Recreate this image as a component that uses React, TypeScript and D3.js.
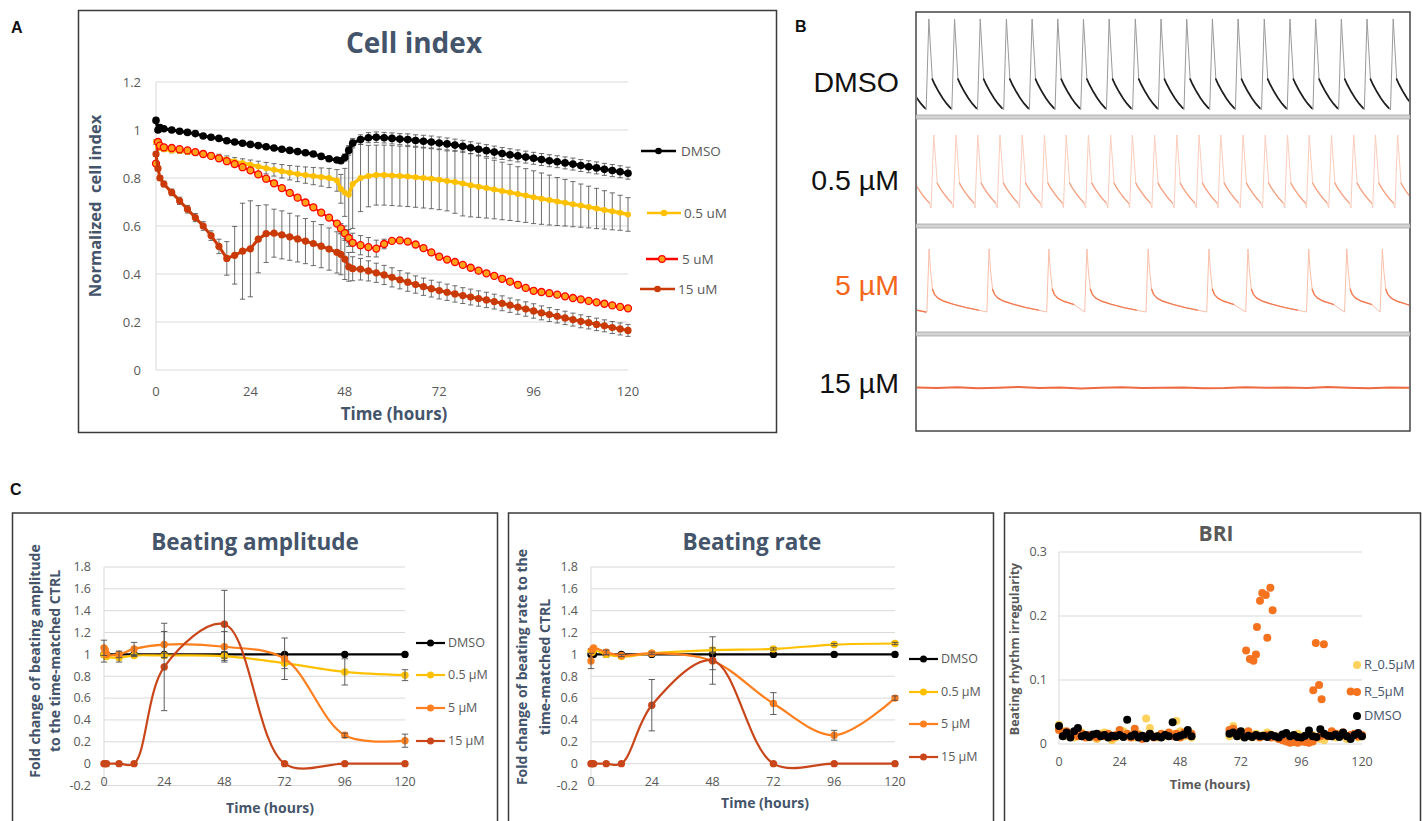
import React from "react";
import * as d3 from "d3";

const OPEN = "'Open Sans', 'DejaVu Sans', sans-serif";
const ARIAL = "'Liberation Sans', Arial, sans-serif";
const SLATE = "#44546A";
const GREY = "#595959";
const GRID = "#D9D9D9";

// ---------- A: normalized cell index (every 2 h, extra points near 0 h and 48 h) ----------
const tA = [
  0, 0.5, 1,
  2, 4, 6, 8, 10, 12, 14, 16, 18, 20, 22, 24,
  26, 28, 30, 32, 34, 36, 38, 40, 42, 44, 46,
  47, 48, 49,
  50, 52, 54, 56, 58, 60, 62, 64, 66, 68, 70, 72,
  74, 76, 78, 80, 82, 84, 86, 88, 90, 92, 94, 96,
  98, 100, 102, 104, 106, 108, 110, 112, 114, 116, 118, 120,
];
const ciDMSO = [
  1.04, 1.0, 1.01,
  1.005, 1.0, 0.995, 0.99, 0.985, 0.975, 0.97, 0.965, 0.955, 0.95, 0.945, 0.94,
  0.935, 0.93, 0.925, 0.92, 0.915, 0.91, 0.905, 0.9, 0.89, 0.88, 0.875,
  0.872, 0.885, 0.915,
  0.945, 0.96, 0.968, 0.97, 0.968, 0.965, 0.962, 0.96, 0.956, 0.953, 0.95, 0.946,
  0.942, 0.937, 0.932, 0.926, 0.92, 0.914, 0.908, 0.902, 0.897, 0.892, 0.887, 0.882,
  0.877, 0.872, 0.868, 0.863, 0.858, 0.852, 0.847, 0.842, 0.836, 0.831, 0.826, 0.82,
];
const ciDMSOErr = [
  0.01, 0.01, 0.01,
  0.008, 0.008, 0.008, 0.008, 0.008, 0.008, 0.008, 0.008, 0.008, 0.008, 0.008, 0.008,
  0.008, 0.008, 0.008, 0.009, 0.009, 0.009, 0.01, 0.01, 0.01, 0.01, 0.01,
  0.012, 0.015, 0.02,
  0.02, 0.02, 0.021, 0.022, 0.022, 0.023, 0.023, 0.024, 0.024, 0.025, 0.025, 0.025,
  0.025, 0.025, 0.025, 0.025, 0.025, 0.025, 0.025, 0.025, 0.025, 0.025, 0.025, 0.025,
  0.025, 0.025, 0.025, 0.025, 0.025, 0.025, 0.025, 0.025, 0.025, 0.025, 0.025, 0.025,
];
const ci05 = [
  0.95, 0.93, 0.925,
  0.92, 0.915, 0.912, 0.908, 0.904, 0.9, 0.893, 0.885, 0.877, 0.869, 0.862, 0.855,
  0.848, 0.841, 0.834, 0.828, 0.822, 0.817, 0.812, 0.808, 0.804, 0.8, 0.79,
  0.755, 0.74, 0.73,
  0.775, 0.8, 0.808, 0.812, 0.812, 0.81, 0.808, 0.806, 0.803, 0.8, 0.797, 0.793,
  0.788, 0.783, 0.777, 0.77, 0.764, 0.758, 0.752, 0.746, 0.74, 0.733, 0.727, 0.72,
  0.714, 0.708, 0.702, 0.697, 0.691, 0.685, 0.679, 0.673, 0.667, 0.661, 0.655, 0.648,
];
const ci05Err = [
  0.01, 0.01, 0.01,
  0.01, 0.01, 0.01, 0.01, 0.01, 0.012, 0.012, 0.014, 0.015, 0.016, 0.018, 0.02,
  0.022, 0.024, 0.026, 0.028, 0.03, 0.032, 0.034, 0.036, 0.038, 0.04, 0.045,
  0.06, 0.1, 0.2,
  0.185, 0.14, 0.128, 0.125, 0.125, 0.125, 0.125, 0.125, 0.125, 0.125, 0.125, 0.125,
  0.125, 0.13, 0.135, 0.132, 0.128, 0.125, 0.122, 0.12, 0.117, 0.114, 0.112, 0.11,
  0.107, 0.104, 0.1, 0.097, 0.094, 0.09, 0.087, 0.084, 0.08, 0.077, 0.073, 0.07,
];
const ci5 = [
  0.86, 0.95, 0.935,
  0.928, 0.925, 0.92, 0.915, 0.908, 0.9, 0.892, 0.882, 0.87, 0.858, 0.845, 0.832,
  0.815, 0.797, 0.778, 0.758, 0.738, 0.718, 0.698, 0.678, 0.656, 0.635, 0.61,
  0.59, 0.57, 0.55,
  0.53, 0.52, 0.512, 0.506, 0.525, 0.538, 0.54, 0.535, 0.523, 0.508, 0.49, 0.472,
  0.46, 0.45, 0.438, 0.426, 0.414, 0.403, 0.392, 0.38, 0.368, 0.355, 0.342, 0.33,
  0.325, 0.32, 0.314, 0.307, 0.3, 0.294, 0.288, 0.282, 0.276, 0.269, 0.263, 0.257,
];
const ci5Err = [
  0.01, 0.01, 0.01,
  0.008, 0.008, 0.008, 0.008, 0.008, 0.008, 0.008, 0.008, 0.008, 0.008, 0.008, 0.008,
  0.008, 0.008, 0.008, 0.008, 0.008, 0.008, 0.008, 0.008, 0.008, 0.008, 0.008,
  0.02, 0.03, 0.035,
  0.04, 0.04, 0.04, 0.035, 0.02, 0.01, 0.01, 0.01, 0.01, 0.01, 0.01, 0.01,
  0.01, 0.01, 0.01, 0.01, 0.01, 0.01, 0.01, 0.01, 0.01, 0.01, 0.01, 0.01,
  0.01, 0.01, 0.01, 0.01, 0.01, 0.01, 0.01, 0.01, 0.01, 0.01, 0.01, 0.01,
];
const ci15 = [
  0.9, 0.84, 0.8,
  0.775, 0.74, 0.705, 0.67, 0.635, 0.6, 0.56, 0.515, 0.465, 0.478, 0.495, 0.505,
  0.545, 0.568, 0.57, 0.563, 0.555, 0.546, 0.537, 0.527, 0.516, 0.504, 0.49,
  0.482, 0.462, 0.43,
  0.422, 0.42, 0.413, 0.405, 0.396, 0.386, 0.376, 0.366, 0.356, 0.347, 0.339, 0.331,
  0.324, 0.317, 0.31, 0.304, 0.298, 0.292, 0.285, 0.278, 0.27, 0.262, 0.254, 0.246,
  0.238, 0.231, 0.224, 0.217, 0.21, 0.203, 0.197, 0.19, 0.184, 0.177, 0.171, 0.165,
];
const ci15Err = [
  0.01, 0.01, 0.01,
  0.012, 0.014, 0.015, 0.016, 0.017, 0.018, 0.02, 0.03, 0.07, 0.12, 0.2, 0.2,
  0.14, 0.12, 0.1, 0.1, 0.098, 0.096, 0.094, 0.092, 0.09, 0.088, 0.086,
  0.085, 0.085, 0.06,
  0.05, 0.045, 0.042, 0.04, 0.04, 0.04, 0.038, 0.038, 0.036, 0.036, 0.035, 0.035,
  0.034, 0.034, 0.033, 0.033, 0.032, 0.032, 0.031, 0.031, 0.03, 0.03, 0.03, 0.03,
  0.029, 0.029, 0.028, 0.028, 0.027, 0.027, 0.026, 0.026, 0.025, 0.025, 0.025, 0.025,
];
const ciLabels = ["DMSO", "0.5 uM", "5 uM", "15 uM"];

// ---------- B: beating traces (beat peak times in trace units, 0-100 across the frame) ----------
const beatsDMSO = [-2.6, 2.6, 7.8, 13.0, 18.3, 23.5, 28.7, 33.9, 39.1, 44.4, 49.6, 54.8, 60.0, 65.2, 70.5, 75.7, 80.9, 86.1, 91.3, 96.6, 101.8];
const beats05 = [-0.9, 3.6, 8.1, 12.5, 17.0, 21.5, 26.0, 30.4, 34.9, 39.4, 43.8, 48.3, 52.8, 57.3, 61.7, 66.2, 70.7, 75.2, 79.6, 84.1, 88.6, 93.0, 97.5, 102];
const beats5 = [-10, 2.65, 14.8, 26.9, 34.6, 47.0, 59.3, 67.2, 79.5, 87.2, 94.4, 106];
// one beat: [time after peak, normalized amplitude]
const fastBeat = [[-0.55, 0], [0, 1], [0.7, 0.34], [1.2, 0.28], [2.0, 0.2], [2.8, 0.13], [3.6, 0.07], [4.4, 0.02]];
const slowBeat = [[-0.45, 0], [0, 1], [0.3, 0.65], [0.7, 0.36], [1.1, 0.28], [1.8, 0.22], [3, 0.17], [5, 0.12], [7.5, 0.07], [10, 0.03], [12, 0]];
const flat15 = [0.2, 0.0, 0.3, -0.1, 0.1, 0.4, 0.0, 0.2, -0.2, 0.1, 0.3, 0.0, 0.1, 0.2, -0.1, 0.0, 0.3, 0.1, 0.2, 0.0, 0.4, 0.1, -0.1, 0.2, 0.1];
const traceLabels = ["DMSO", "0.5 µM", "5 µM", "15 µM"];

// ---------- C: fold change vs time-matched control ----------
const tC = [0, 0.5, 1, 6, 12, 24, 48, 72, 96, 120];
const ampDMSO = [1, 1, 1, 1, 1, 1, 1, 1, 1, 1];
const amp05 = [1.0, 0.99, 0.98, 0.97, 0.99, 0.99, 0.985, 0.92, 0.84, 0.81];
const amp5 = [1.06, 1.04, 1.0, 1.0, 1.05, 1.09, 1.07, 0.96, 0.26, 0.21];
const amp15 = [0, 0, 0, 0, 0, 0.885, 1.276, 0, 0, 0];
const ampErrDMSO = [0, 0, 0, 0, 0, 0, 0, 0, 0, 0];
const ampErr05 = [0.07, 0, 0, 0.04, 0.01, 0.02, 0.04, 0.05, 0.12, 0.05];
const ampErr5 = [0.07, 0, 0, 0.03, 0.06, 0.12, 0.14, 0.19, 0.02, 0.06];
const ampErr15 = [0, 0, 0, 0, 0, 0.4, 0.31, 0, 0, 0];

const rateDMSO = [1, 1, 1, 1, 1, 1, 1, 1, 1, 1];
const rate05 = [1.03, 1.02, 1.04, 1.0, 0.98, 1.01, 1.04, 1.05, 1.09, 1.1];
const rate5 = [0.94, 1.04, 1.06, 1.02, 0.99, 1.01, 0.94, 0.55, 0.26, 0.6];
const rate15 = [0, 0, 0, 0, 0, 0.535, 0.944, 0, 0, 0];
const rateErrDMSO = [0, 0, 0, 0, 0, 0, 0, 0, 0, 0];
const rateErr05 = [0.02, 0, 0, 0.01, 0.01, 0.01, 0.02, 0.01, 0.01, 0.01];
const rateErr5 = [0.07, 0, 0, 0.02, 0.01, 0.01, 0.08, 0.1, 0.045, 0.02];
const rateErr15 = [0, 0, 0, 0, 0, 0.235, 0.217, 0, 0, 0];
const foldLabels = ["DMSO", "0.5 µM", "5 µM", "15 µM"];
const foldTicksY = [-0.2, 0, 0.2, 0.4, 0.6, 0.8, 1, 1.2, 1.4, 1.6, 1.8];
const hourTicks = [0, 24, 48, 72, 96, 120];

// ---------- BRI: beating rhythm irregularity ----------
const briT = [...d3.range(0, 53, 1.5), ...d3.range(67.5, 120.1, 1.5)];
const briDMSO = [
  0.028, 0.012, 0.018, 0.01, 0.02, 0.025, 0.012, 0.014, 0.011, 0.015, 0.016, 0.012,
  0.014, 0.01, 0.013, 0.012, 0.014, 0.011, 0.038, 0.012, 0.015, 0.01, 0.013, 0.009,
  0.016, 0.011, 0.012, 0.01, 0.014, 0.012, 0.034, 0.011, 0.013, 0.015, 0.022, 0.012,
  0.016, 0.018, 0.012, 0.02, 0.01, 0.013, 0.011, 0.014, 0.012, 0.013, 0.011, 0.014,
  0.012, 0.01, 0.015, 0.017, 0.012, 0.014, 0.011, 0.01, 0.013, 0.021, 0.012, 0.011,
  0.023, 0.016, 0.013, 0.012, 0.015, 0.011, 0.018, 0.012, 0.008, 0.014, 0.017, 0.012,
];
const bri05 = [
  0.03, 0.02, 0.012, 0.016, 0.01, 0.014, 0.018, 0.012, 0.01, 0.014, 0.008, 0.016,
  0.018, 0.012, 0.006, 0.01, 0.016, 0.02, 0.012, 0.014, 0.01, 0.016, 0.012, 0.04,
  0.025, 0.012, 0.01, 0.015, 0.012, 0.014, 0.016, 0.036, 0.02, 0.012, 0.016, 0.01,
  0.012, 0.028, 0.016, 0.012, 0.018, 0.014, 0.01, 0.016, 0.012, 0.014, 0.018, 0.015,
  0.01, 0.012, 0.008, 0.014, 0.01, 0.012, 0.016, 0.012, 0.008, 0.012, 0.014, 0.01,
  0.008, 0.006, 0.012, 0.014, 0.01, 0.016, 0.012, 0.008, 0.012, 0.014, 0.01, 0.012,
];
const bri5 = [
  0.022, 0.018, 0.02, 0.014, 0.018, 0.012, 0.016, 0.01, 0.014, 0.012, 0.01, 0.014,
  0.012, 0.016, 0.01, 0.014, 0.022, 0.012, 0.016, 0.01, 0.024, 0.014, 0.008, 0.012,
  0.016, 0.01, 0.012, 0.016, 0.014, 0.018, 0.012, 0.016, 0.01, 0.018, 0.014, 0.016,
  0.022, 0.024, 0.018, 0.014, 0.012, 0.02, 0.012, 0.014, 0.01, 0.012, 0.014, 0.01,
  0.012, 0.008, 0.006, 0.004, 0.002, 0.003, 0.002, 0.004, 0.003, 0.002, 0.004, 0.01,
  0.012, 0.014, 0.012, 0.02, 0.016, 0.014, 0.018, 0.012, 0.014, 0.016, 0.012, 0.014,
];
const bri5HighT = [74.1, 75.6, 77.0, 78.0, 78.4, 79.6, 80.5, 81.9, 82.5, 83.7, 84.6, 100.7, 101.7, 103.0, 104.0, 104.9, 115.5];
const bri5HighV = [0.146, 0.133, 0.13, 0.14, 0.183, 0.224, 0.236, 0.233, 0.166, 0.244, 0.209, 0.084, 0.158, 0.092, 0.07, 0.156, 0.082];
const briLabels = ["R_0.5µM", "R_5µM", "DMSO"];

function ErrorBars({ ts, vals, errs, x, y, cap, color, width }: any) {
  return (
    <g stroke={color} strokeWidth={width}>
      {vals.map((v: number, i: number) => {
        if (!errs[i]) return null;
        const cx = x(ts[i]);
        const lo = y(v - errs[i]);
        const hi = y(v + errs[i]);
        return (
          <g key={i}>
            <line x1={cx} x2={cx} y1={lo} y2={hi} />
            <line x1={cx - cap} x2={cx + cap} y1={lo} y2={lo} />
            <line x1={cx - cap} x2={cx + cap} y1={hi} y2={hi} />
          </g>
        );
      })}
    </g>
  );
}

function PanelA() {
  const x = d3.scaleLinear().domain([0, 120]).range([156, 628]);
  const y = d3.scaleLinear().domain([0, 1.2]).range([370, 82]);
  const yTicks = [0, 0.2, 0.4, 0.6, 0.8, 1, 1.2];
  const line = d3.line<number>().x((_, i) => x(tA[i])).y((d) => y(d));
  const series = [
    { vals: ciDMSO, errs: ciDMSOErr, stroke: "#000000", fill: "#000000", r: 3.8, w: 3 },
    { vals: ci05, errs: ci05Err, stroke: "#FFC000", fill: "#FFC000", r: 3, w: 3.5 },
    { vals: ci5, errs: ci5Err, stroke: "#FF0000", fill: "#FFA21A", r: 3.5, w: 2 },
    { vals: ci15, errs: ci15Err, stroke: "#C93A06", fill: "#C93A06", r: 3.6, w: 3 },
  ];
  const legend = [
    { y: 151, x1: 641, x2: 676, tx: 681 },
    { y: 213, x1: 647, x2: 681, tx: 684 },
    { y: 259, x1: 646, x2: 678, tx: 682 },
    { y: 289, x1: 640, x2: 675, tx: 678 },
  ];
  return (
    <g fontFamily={OPEN}>
      <rect x={78.5} y={10.5} width={698} height={422} fill="#fff" stroke="#3a3a3a" strokeWidth={1.5} />
      <text x={414} y={53} textAnchor="middle" fontSize={28} fontWeight={700} fill={SLATE}>Cell index</text>
      {yTicks.map((t) => (
        <g key={t}>
          <line x1={x(0)} x2={x(120)} y1={y(t)} y2={y(t)} stroke={GRID} />
          <text x={141} y={y(t)} dy="0.35em" textAnchor="end" fontSize={13} fill={GREY}>{t}</text>
        </g>
      ))}
      <line x1={x(0)} x2={x(0)} y1={y(0)} y2={y(1.2)} stroke={GRID} />
      {hourTicks.map((t) => (
        <text key={t} x={x(t)} y={396} textAnchor="middle" fontSize={13} fill={GREY}>{t}</text>
      ))}
      <text transform="translate(95,206) rotate(-90)" textAnchor="middle" dy="0.35em" fontSize={16.5} fontWeight={700} fill={SLATE} style={{ whiteSpace: "pre" }}>
        {"Normalized  cell index"}
      </text>
      <text x={394} y={420} textAnchor="middle" fontSize={17} fontWeight={700} fill={SLATE}>Time (hours)</text>
      {series.map((s, k) => (
        <ErrorBars key={k} ts={tA} vals={s.vals} errs={s.errs} x={x} y={y} cap={2.6} color="#4a4a4a" width={0.8} />
      ))}
      {series.map((s, k) => (
        <g key={k}>
          <path d={line(s.vals) || ""} fill="none" stroke={s.stroke} strokeWidth={s.w} />
          {s.vals.map((v, i) => (
            <circle key={i} cx={x(tA[i])} cy={y(v)} r={s.r} fill={s.fill} stroke={s.stroke} strokeWidth={k === 2 ? 1.3 : 0} />
          ))}
        </g>
      ))}
      {legend.map((l, k) => (
        <g key={k}>
          <line x1={l.x1} x2={l.x2} y1={l.y} y2={l.y} stroke={series[k].stroke} strokeWidth={2.5} />
          <circle cx={(l.x1 + l.x2) / 2} cy={l.y} r={3.3} fill={series[k].fill} stroke={series[k].stroke} strokeWidth={k === 2 ? 1.2 : 0} />
          <text x={l.tx} y={l.y} dy="0.35em" fontSize={13.5} fill={GREY}>{ciLabels[k]}</text>
        </g>
      ))}
    </g>
  );
}

function beatSegments(beats: number[], tpl: number[][], from: number) {
  return beats.map((b, i) => {
    const stop = i < beats.length - 1 ? beats[i + 1] + tpl[0][0] : Infinity;
    return tpl
      .slice(from)
      .filter(([dt]) => b + dt < stop)
      .map(([dt, v]) => [b + dt, v] as [number, number]);
  });
}

function PanelB() {
  const x = d3.scaleLinear().domain([0, 100]).range([916, 1410]);
  const rows = [
    { beats: beatsDMSO, tpl: fastBeat, shoulder: 2, y0: 110, y1: 19, fast: "#9a9a9a", slow: "#1f1f1f", sw: 1.7 },
    { beats: beats05, tpl: fastBeat, shoulder: 2, y0: 208, y1: 135, fast: "#FBCDBD", slow: "#F5A283", sw: 1.3 },
    { beats: beats5, tpl: slowBeat, shoulder: 3, y0: 312, y1: 249, fast: "#F9BFAA", slow: "#F27D55", sw: 1.4 },
  ];
  const labelY = [92, 190, 295, 393];
  const flatX = d3.scaleLinear().domain([0, flat15.length - 1]).range([0, 100]);
  const flatLine = d3.line<number>().x((_, i) => x(flatX(i))).y((v) => 388 - v * 2.5);
  return (
    <g>
      <defs>
        <clipPath id="bclip">
          <rect x={917} y={13} width={492} height={417} />
        </clipPath>
      </defs>
      <rect x={916} y={12} width={494} height={419} fill="#fff" stroke="#444" strokeWidth={1.5} />
      {[117, 226, 334].map((sy) => (
        <rect key={sy} x={916} y={sy - 2} width={494} height={4} fill="#d4d4d4" stroke="#9c9c9c" strokeWidth={0.7} />
      ))}
      <g clipPath="url(#bclip)" fill="none">
        {rows.map((r, k) => {
          const y = d3.scaleLinear().domain([0, 1]).range([r.y0, r.y1]);
          const line = d3.line<[number, number]>().x((d) => x(d[0])).y((d) => y(d[1]));
          const full = beatSegments(r.beats, r.tpl, 0).flat();
          const slow = beatSegments(r.beats, r.tpl, r.shoulder);
          return (
            <g key={k}>
              <path d={line(full) || ""} stroke={r.fast} strokeWidth={1} />
              {slow.map((s, i) => (
                <path key={i} d={line(s) || ""} stroke={r.slow} strokeWidth={r.sw} strokeLinecap="round" />
              ))}
            </g>
          );
        })}
        <path d={flatLine(flat15) || ""} stroke="#EE6A40" strokeWidth={2} />
      </g>
      {traceLabels.map((t, k) => (
        <text key={t} x={899} y={labelY[k]} textAnchor="end" fontFamily={ARIAL} fontSize={28.5} fill={k === 2 ? "#F4661B" : "#111"}>
          {t}
        </text>
      ))}
    </g>
  );
}

function FoldChart(props: any) {
  const { frameX, frameW, title, titleX, yLabel, yLabelX, yLabelY, x0, x1, xLabelX, xLabelY, series, legendX, legendY } = props;
  const x = d3.scaleLinear().domain([0, 120]).range([x0, x1]);
  const y = d3.scaleLinear().domain([-0.2, 1.8]).range([785.5, 567]);
  const line = d3.line<number>().x((_, i) => x(tC[i])).y((d) => y(d)).curve(d3.curveCatmullRom);
  return (
    <g fontFamily={OPEN}>
      <rect x={frameX} y={513} width={frameW} height={330} fill="#fff" stroke="#3a3a3a" strokeWidth={1.5} />
      <text x={titleX} y={550} textAnchor="middle" fontSize={22.5} fontWeight={700} fill={SLATE}>{title}</text>
      {foldTicksY.map((t) => (
        <g key={t}>
          <line x1={x0} x2={x1} y1={y(t)} y2={y(t)} stroke={GRID} />
          <text x={x0 - 13} y={y(t)} dy="0.35em" textAnchor="end" fontSize={12.5} fill={GREY}>{t}</text>
        </g>
      ))}
      <line x1={x0} x2={x0} y1={y(-0.2)} y2={y(1.8)} stroke={GRID} />
      {hourTicks.map((t) => (
        <text key={t} x={x(t)} y={785.5} textAnchor="middle" fontSize={12.5} fill={GREY}>{t}</text>
      ))}
      {yLabel.map((l: string, k: number) => (
        <text key={k} transform={`translate(${yLabelX[k]},${yLabelY}) rotate(-90)`} textAnchor="middle" dy="0.35em" fontSize={14} fontWeight={700} fill={SLATE}>
          {l}
        </text>
      ))}
      <text x={xLabelX} y={xLabelY} textAnchor="middle" fontSize={14} fontWeight={700} fill={SLATE}>Time (hours)</text>
      {series.map((s: any, k: number) => (
        <g key={k}>
          <path d={line(s.vals) || ""} fill="none" stroke={s.color} strokeWidth={2.2} />
          {s.vals.map((v: number, i: number) => (
            <circle key={i} cx={x(tC[i])} cy={y(v)} r={3.7} fill={s.color} />
          ))}
          <ErrorBars ts={tC} vals={s.vals} errs={s.errs} x={x} y={y} cap={3.2} color="#4d4d4d" width={0.9} />
        </g>
      ))}
      {series.map((s: any, k: number) => (
        <g key={k}>
          <line x1={legendX} x2={legendX + 29} y1={legendY[k]} y2={legendY[k]} stroke={s.color} strokeWidth={2.2} />
          <circle cx={legendX + 14.5} cy={legendY[k]} r={3.5} fill={s.color} />
          <text x={legendX + 32} y={legendY[k]} dy="0.35em" fontSize={12.5} fill={GREY}>{foldLabels[k]}</text>
        </g>
      ))}
    </g>
  );
}

function PanelBRI() {
  const x = d3.scaleLinear().domain([0, 120]).range([1059, 1362]);
  const y = d3.scaleLinear().domain([0, 0.3]).range([744, 552]);
  const series = [
    { ts: briT, vals: bri05, color: "#FFD25E" },
    { ts: [...briT, ...bri5HighT], vals: [...bri5, ...bri5HighV], color: "#F5731F" },
    { ts: briT, vals: briDMSO, color: "#000000" },
  ];
  const legendY = [665, 692, 716];
  return (
    <g fontFamily={OPEN}>
      <rect x={1004.5} y={513} width={416} height={330} fill="#fff" stroke="#3a3a3a" strokeWidth={1.5} />
      <text x={1216} y={541} textAnchor="middle" fontSize={21} fontWeight={700} fill={GREY}>BRI</text>
      {[0, 0.1, 0.2, 0.3].map((t) => (
        <g key={t}>
          <line x1={x(0)} x2={x(120)} y1={y(t)} y2={y(t)} stroke={GRID} />
          <text x={1047} y={y(t)} dy="0.35em" textAnchor="end" fontSize={12.5} fill={GREY}>{t}</text>
        </g>
      ))}
      <line x1={x(0)} x2={x(0)} y1={y(0)} y2={y(0.3)} stroke={GRID} />
      {hourTicks.map((t) => (
        <text key={t} x={x(t)} y={766} textAnchor="middle" fontSize={12.5} fill={GREY}>{t}</text>
      ))}
      <text transform="translate(1015,649) rotate(-90)" textAnchor="middle" dy="0.35em" fontSize={12.5} fontWeight={700} fill={GREY}>
        Beating rhythm irregularity
      </text>
      <text x={1210} y={789} textAnchor="middle" fontSize={12.8} fontWeight={700} fill={GREY}>Time (hours)</text>
      {series.map((s, k) => (
        <g key={k}>
          {s.vals.map((v, i) => (
            <circle key={i} cx={x(s.ts[i])} cy={y(v)} r={4} fill={s.color} />
          ))}
        </g>
      ))}
      {series.map((s, k) => (
        <g key={k}>
          <circle cx={1357} cy={legendY[k]} r={4} fill={s.color} />
          <text x={1364} y={legendY[k]} dy="0.35em" fontSize={12.8} fill={SLATE}>{briLabels[k]}</text>
        </g>
      ))}
    </g>
  );
}

export default function App() {
  const ampSeries = [
    { vals: ampDMSO, errs: ampErrDMSO, color: "#000000" },
    { vals: amp05, errs: ampErr05, color: "#FFC000" },
    { vals: amp5, errs: ampErr5, color: "#FF7F1F" },
    { vals: amp15, errs: ampErr15, color: "#C9461A" },
  ];
  const rateSeries = [
    { vals: rateDMSO, errs: rateErrDMSO, color: "#000000" },
    { vals: rate05, errs: rateErr05, color: "#FFC000" },
    { vals: rate5, errs: rateErr5, color: "#FF7F1F" },
    { vals: rate15, errs: rateErr15, color: "#C9461A" },
  ];
  return (
    <svg width={1422} height={821} style={{ position: "absolute", left: 0, top: 0, background: "#fff" }}>
      <rect width={1422} height={821} fill="#fff" />
      <g fontFamily={ARIAL} fontWeight={700} fontSize={16} fill="#111">
        <text x={11} y={33}>A</text>
        <text x={795} y={32}>B</text>
        <text x={10} y={495}>C</text>
      </g>
      <PanelA />
      <PanelB />
      <FoldChart
        frameX={12.5}
        frameW={485}
        title="Beating amplitude"
        titleX={255}
        yLabel={["Fold change of beating amplitude", "to the time-matched CTRL"]}
        yLabelX={[35, 55]}
        yLabelY={661}
        x0={104}
        x1={405}
        xLabelX={270}
        xLabelY={813}
        series={ampSeries}
        legendX={416}
        legendY={[643, 675, 708, 741]}
      />
      <FoldChart
        frameX={508.5}
        frameW={485}
        title="Beating rate"
        titleX={752}
        yLabel={["Fold change of beating rate to the", "time-matched CTRL"]}
        yLabelX={[522, 545]}
        yLabelY={667}
        x0={591}
        x1={895}
        xLabelX={765}
        xLabelY={808}
        series={rateSeries}
        legendX={909}
        legendY={[659, 692, 724, 757]}
      />
      <PanelBRI />
    </svg>
  );
}
